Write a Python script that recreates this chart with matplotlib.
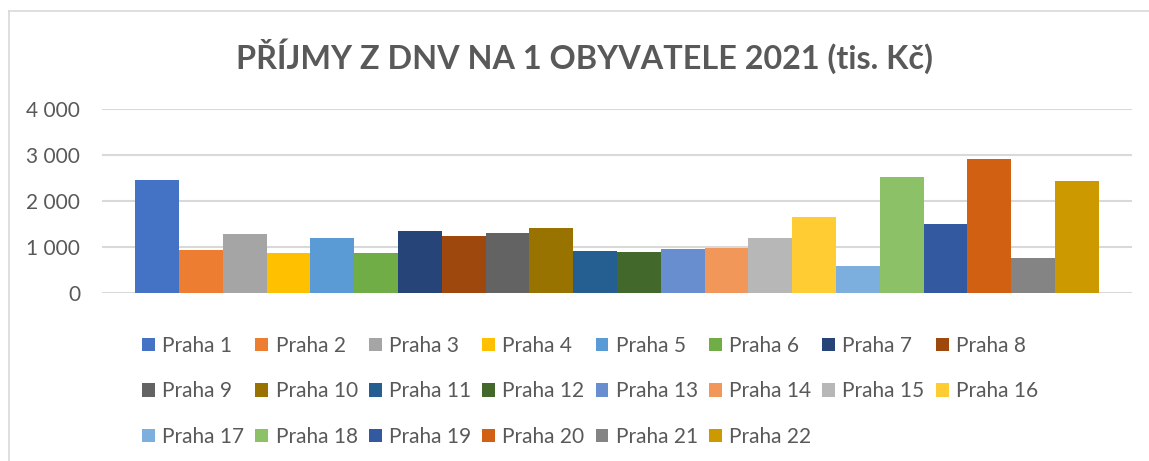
import matplotlib
matplotlib.use('Agg')
import matplotlib.pyplot as plt
from matplotlib.lines import Line2D
from matplotlib.patches import Patch
import numpy as np

plt.rcParams['font.family'] = ['Lato', 'DejaVu Sans']

districts = ['Praha %d' % i for i in range(1, 23)]
values = [2460, 934, 1285, 869, 1197, 869, 1350, 1241, 1307, 1416, 912,
          891, 956, 978, 1197, 1635, 584, 2511, 1504, 2905, 759, 2423]
colors = ['#4472C4', '#ED7D31', '#A5A5A5', '#FFC000', '#5B9BD5', '#70AD47',
          '#264478', '#9E480E', '#636363', '#997300', '#255E91', '#43682B',
          '#698ED0', '#F1975A', '#B7B7B7', '#FFCD33', '#7CAFDD', '#8CC168',
          '#335AA1', '#D26012', '#848484', '#CC9A00']
yticks = [0, 1000, 2000, 3000, 4000]
title = 'PŘÍJMY Z DNV NA 1 OBYVATELE 2021 (tis. Kč)'

W, H = 1149, 461
text_col = '#595959'
grid_col = '#D9D9D9'

fig = plt.figure(figsize=(W / 100, H / 100), dpi=100)
ax = fig.add_axes([102.3 / W, 1 - 292.7 / H, 1029.4 / W, 184 / H])

x = np.arange(len(values))
bars = ax.bar(x, values, width=1, align='edge', color=colors, zorder=3)
ax.set_xlim(-0.75, 22.75)
ax.set_ylim(0, 4000)
ax.set_yticks(yticks)
ax.set_yticklabels(['{:,}'.format(v).replace(',', ' ') for v in yticks])
ax.set_xticks([])
ax.tick_params(axis='y', length=0, pad=16, labelsize=15, labelcolor=text_col)
ax.grid(axis='y', color=grid_col, linewidth=1.5, zorder=0)
for s in ax.spines.values():
    s.set_visible(False)

fig.text(585 / W, 1 - 56 / H, title, ha='center', va='center',
         fontsize=23.3, fontweight='bold', color=text_col)

# legend, row-major order like Excel
ncol = 8
nrow = 3
order = []
for c in range(ncol):
    for r in range(nrow):
        i = r * ncol + c
        if i < len(districts):
            order.append(i)
handles = [Patch(facecolor=colors[i], edgecolor='none') for i in order]
labels = [districts[i] for i in order]
leg = fig.legend(handles, labels, ncol=ncol, loc='upper left',
                 bbox_to_anchor=(142 / W, 1 - 336 / H), frameon=False,
                 fontsize=15, labelcolor=text_col, handlelength=0.62,
                 handleheight=0.62, handletextpad=0.35, columnspacing=0.53,
                 labelspacing=1.22, borderpad=0, borderaxespad=0)

# chart area border
fig.add_artist(Line2D([9 / W, 9 / W], [0, 1 - 11 / H], color=grid_col, lw=1.2))
fig.add_artist(Line2D([9 / W, 1], [1 - 11 / H, 1 - 11 / H], color=grid_col, lw=1.2))

fig.savefig('out.png', dpi=100, facecolor='white')
